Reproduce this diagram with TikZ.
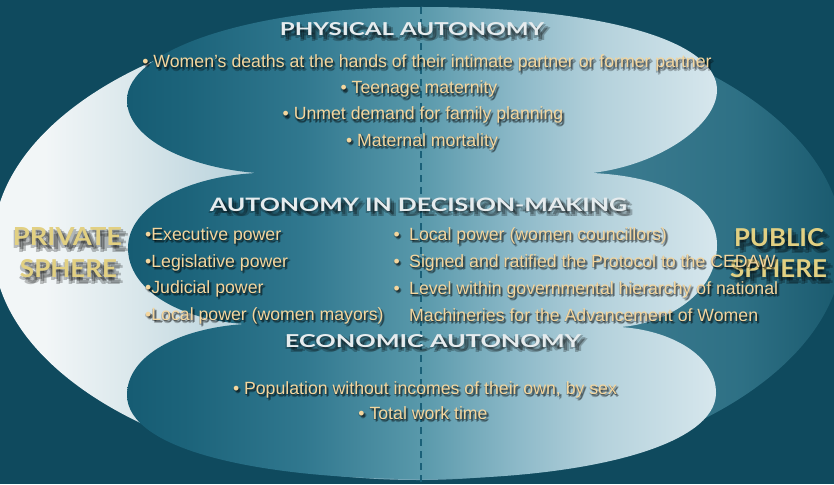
\documentclass[tikz,border=0pt]{standalone}
\usepackage{fontspec}
\usepackage{graphicx}
\setmainfont{Liberation Sans}
\newfontfamily\headfont{Lato}

\definecolor{bgc}{RGB}{15,74,94}
\definecolor{tanc}{RGB}{244,214,158}
\definecolor{headc}{RGB}{230,236,238}
\definecolor{goldc}{RGB}{226,208,130}
\definecolor{dashc}{RGB}{26,96,120}

\pgfdeclarehorizontalshading{outersh}{100bp}{rgb(0bp)=(0.95,0.965,0.97); rgb(28bp)=(0.95,0.965,0.97); rgb(33bp)=(0.86,0.91,0.925); rgb(40bp)=(0.72,0.82,0.86); rgb(50bp)=(0.43,0.63,0.70); rgb(60bp)=(0.24,0.49,0.57); rgb(69bp)=(0.18,0.44,0.52); rgb(75bp)=(0.1,0.35,0.43); rgb(100bp)=(0.1,0.35,0.43)}

\pgfdeclarehorizontalshading{lobesh}{100bp}{rgb(0bp)=(0.086,0.36,0.45); rgb(25bp)=(0.086,0.36,0.45); rgb(30bp)=(0.11,0.39,0.48); rgb(40bp)=(0.19,0.47,0.56); rgb(50bp)=(0.35,0.6,0.67); rgb(58bp)=(0.55,0.725,0.785); rgb(65bp)=(0.705,0.82,0.86); rgb(75bp)=(0.843,0.906,0.93); rgb(100bp)=(0.843,0.906,0.93)}

\newcommand{\shd}[1]{\leavevmode\rlap{\pgfsetfillopacity{0.24}%
\rlap{\kern0.8pt\raisebox{-1pt}{\color{black}#1}}%
\rlap{\kern1.8pt\raisebox{-2pt}{\color{black}#1}}%
\rlap{\kern2.6pt\raisebox{-2.8pt}{\color{black}#1}}%
\rlap{\kern1.5pt\raisebox{-3.2pt}{\color{black}#1}}%
\rlap{\kern-0.5pt\raisebox{-1.5pt}{\color{black}#1}}%
\pgfsetfillopacity{1}}#1}

\tikzset{
  btxt/.style={text=tanc, inner sep=0pt, font=\fontsize{17.7}{20}\selectfont},
  htxt/.style={text=headc, inner sep=0pt, font=\headfont\bfseries},
  sptxt/.style={text=goldc, inner sep=0pt, font=\headfont\bfseries},
  dashline/.style={draw=dashc, line width=1.8pt, dash pattern=on 7pt off 5pt}
}

\begin{document}
\begin{tikzpicture}[x=1pt,y=-1pt]
\useasboundingbox (0,0) rectangle (834,484);
\fill[bgc] (0,0) rectangle (834,484);
% outer sphere
\shade[shading=outersh] (418,245) ellipse [x radius=425, y radius=235];
% three lobes
\shade[shading=lobesh] (422,7) .. controls (250,7) and (127,50) .. (127,100)
 .. controls (127,140) and (190,168) .. (257,173)
 .. controls (190,176) and (128,205) .. (128,248)
 .. controls (128,290) and (180,320) .. (245,324)
 .. controls (180,328) and (127,355) .. (127,395)
 .. controls (127,450) and (260,479) .. (420,479)
 .. controls (590,479) and (716,445) .. (716,393)
 .. controls (716,355) and (670,330) .. (620,327)
 .. controls (665,324) and (717,295) .. (717,245)
 .. controls (717,200) and (660,176) .. (592,173)
 .. controls (660,165) and (717,125) .. (717,90)
 .. controls (717,40) and (600,7) .. (422,7) -- cycle;
% dashed divider
\coordinate (dtop) at (421,7);
\coordinate (dbot) at (421,484);
\draw[dashline] (dtop) -- (dbot);

% sphere labels
\node[sptxt, anchor=base] (priv) at (67.5,245) {\resizebox{109pt}{18pt}{\shd{PRIVATE}}};
\node[sptxt, anchor=base] (privs) at (68.5,277) {\resizebox{97pt}{18pt}{\shd{SPHERE}}};
\node[sptxt, anchor=base] (pub) at (779,246) {\resizebox{90pt}{18pt}{\shd{PUBLIC}}};
\node[sptxt, anchor=base] (pubs) at (778.5,277) {\resizebox{97pt}{18pt}{\shd{SPHERE}}};

% headings
\node[htxt, anchor=base] (h1) at (412,36) {\resizebox{264pt}{13pt}{\shd{PHYSICAL AUTONOMY}}};
\node[htxt, anchor=base] (h2) at (418.5,211) {\resizebox{417pt}{13.5pt}{\shd{AUTONOMY IN DECISION-MAKING}}};
\node[htxt, anchor=base] (h3) at (433,347) {\resizebox{296pt}{13pt}{\shd{ECONOMIC AUTONOMY}}};

% physical autonomy items
\node[btxt, anchor=base] (p1) at (427,68) {\shd{• Women’s deaths at the hands of their intimate partner or former partner}};
\node[btxt, anchor=base] (p2) at (419,94) {\shd{• Teenage maternity}};
\node[btxt, anchor=base] (p3) at (423,120) {\shd{• Unmet demand for family planning}};
\node[btxt, anchor=base] (p4) at (422,146) {\shd{• Maternal mortality}};

% decision-making, left column
\node[btxt, anchor=base west] (d1) at (145,240) {\shd{•Executive power}};
\node[btxt, anchor=base west] (d2) at (145,267) {\shd{•Legislative power}};
\node[btxt, anchor=base west] (d3) at (145,293) {\shd{•Judicial power}};
\node[btxt, anchor=base west] (d4) at (145,320) {\shd{•Local power (women mayors)}};

% decision-making, right column
\node[btxt, anchor=base west] (r1) at (409,240) {\llap{\shd{•}\hspace{9.5pt}}\shd{Local power (women councillors)}};
\node[btxt, anchor=base west] (r2) at (409,267) {\llap{\shd{•}\hspace{9.5pt}}\shd{Signed and ratified the Protocol to the CEDAW}};
\node[btxt, anchor=base west] (r3) at (409,294) {\llap{\shd{•}\hspace{9.5pt}}\shd{Level within governmental hierarchy of national}};
\node[btxt, anchor=base west] (r4) at (409,321) {\shd{Machineries for the Advancement of Women}};

% economic autonomy items
\node[btxt, anchor=base] (e1) at (425,394) {\shd{• Population without incomes of their own, by sex}};
\node[btxt, anchor=base] (e2) at (423,419) {\shd{• Total work time}};
\end{tikzpicture}
\end{document}
